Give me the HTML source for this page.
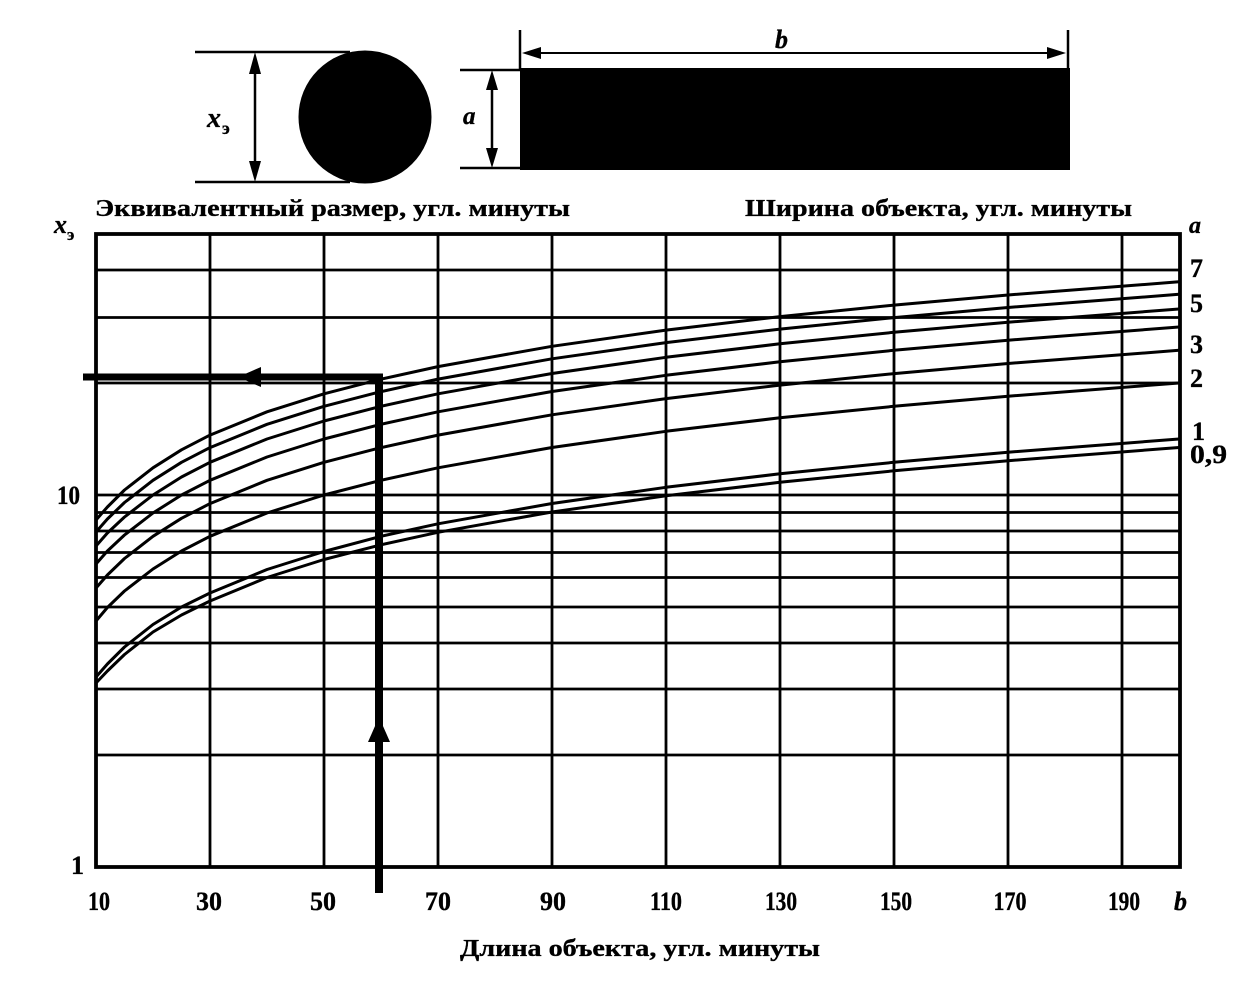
<!DOCTYPE html>
<html>
<head>
<meta charset="utf-8">
<style>
  html,body{margin:0;padding:0;background:#fff;}
  svg{display:block;}
  text{font-family:"Liberation Serif","DejaVu Serif",serif;font-weight:bold;fill:#000;stroke:#000;stroke-width:0.35;}
  .it{font-style:italic;}
</style>
</head>
<body>
<svg width="1248" height="998" viewBox="0 0 1248 998" xmlns="http://www.w3.org/2000/svg">
  <rect x="0" y="0" width="1248" height="998" fill="#fff"/>

  <!-- ===== Top diagrams ===== -->
  <g stroke="#000" stroke-width="2.5" fill="none">
    <line x1="195" y1="52" x2="350" y2="52"/>
    <line x1="195" y1="182" x2="350" y2="182"/>
    <line x1="255" y1="60" x2="255" y2="175"/>
    <line x1="460" y1="70" x2="522" y2="70"/>
    <line x1="460" y1="168" x2="522" y2="168"/>
    <line x1="492" y1="78" x2="492" y2="160"/>
    <line x1="520" y1="30" x2="520" y2="70"/>
    <line x1="1068" y1="30" x2="1068" y2="70"/>
    <line x1="530" y1="53" x2="1058" y2="53" stroke-width="2"/>
  </g>
  <g fill="#000">
    <polygon points="255,52 249,74 261,74"/>
    <polygon points="255,182 249,161 261,161"/>
    <polygon points="492,70 486,90 498,90"/>
    <polygon points="492,168 486,148 498,148"/>
    <polygon points="522,53 541,47 541,59"/>
    <polygon points="1066,53 1047,47 1047,59"/>
    <circle cx="365" cy="117" r="66.5"/>
    <rect x="520" y="68" width="550" height="102"/>
  </g>
  <text class="it" x="207" y="127" font-size="28">x</text>
  <text x="222" y="134" font-size="18">э</text>
  <text class="it" x="463" y="124" font-size="25">a</text>
  <text class="it" x="775" y="48" font-size="26">b</text>

  <!-- ===== Titles ===== -->
  <text x="95" y="216" font-size="24" textLength="475" lengthAdjust="spacingAndGlyphs">Эквивалентный размер, угл. минуты</text>
  <text x="745" y="216" font-size="24" textLength="387" lengthAdjust="spacingAndGlyphs">Ширина объекта, угл. минуты</text>
  <text class="it" x="54" y="233" font-size="26">x</text>
  <text x="67" y="240" font-size="17">э</text>
  <text class="it" x="1189" y="233" font-size="24">a</text>

  <!-- ===== Grid ===== -->
  <g stroke="#000" stroke-width="2.8" fill="none">
    <line x1="96" y1="755" x2="1180" y2="755"/>
    <line x1="96" y1="689" x2="1180" y2="689"/>
    <line x1="96" y1="643" x2="1180" y2="643"/>
    <line x1="96" y1="607" x2="1180" y2="607"/>
    <line x1="96" y1="577.5" x2="1180" y2="577.5"/>
    <line x1="96" y1="552.5" x2="1180" y2="552.5"/>
    <line x1="96" y1="531" x2="1180" y2="531"/>
    <line x1="96" y1="512.5" x2="1180" y2="512.5"/>
    <line x1="96" y1="495" x2="1180" y2="495"/>
    <line x1="96" y1="383" x2="1180" y2="383"/>
    <line x1="96" y1="317.5" x2="1180" y2="317.5"/>
    <line x1="96" y1="270" x2="1180" y2="270"/>
    <line x1="210" y1="234" x2="210" y2="867"/>
    <line x1="324" y1="234" x2="324" y2="867"/>
    <line x1="438" y1="234" x2="438" y2="867"/>
    <line x1="552" y1="234" x2="552" y2="867"/>
    <line x1="666" y1="234" x2="666" y2="867"/>
    <line x1="780" y1="234" x2="780" y2="867"/>
    <line x1="894" y1="234" x2="894" y2="867"/>
    <line x1="1008" y1="234" x2="1008" y2="867"/>
    <line x1="1122" y1="234" x2="1122" y2="867"/>
  </g>
  <rect x="96" y="234" width="1084" height="633" fill="none" stroke="#000" stroke-width="3.8"/>

  <!-- ===== Curves x_e = sqrt(a*b) ===== -->
  <g stroke="#000" stroke-width="3" fill="none" stroke-linejoin="round" stroke-linecap="round">
    <polyline points="96,520 107.4,507 124.5,490 153,467.8 181.5,449.8 210,435.1 267,411.8 324,393.8 381,379.1 438,366.6 552,346.3 666,330.1 780,316.6 894,305.1 1008,295 1179,281.8"/>
    <polyline points="96,532 107.4,519 124.5,502.5 153,480.3 181.5,462.3 210,447.6 267,424.3 324,406.3 381,391.6 438,379.1 552,358.8 666,342.6 780,329.1 894,317.6 1008,307.5 1179,294.3"/>
    <polyline points="96,546 107.4,533 124.5,517 153,495 181.5,477 210,462.3 267,439 324,421 381,406.3 438,393.8 552,373.5 666,357.3 780,343.8 894,332.3 1008,322.2 1179,309"/>
    <polyline points="96,564 107.4,551 124.5,535 153,513 181.5,495 210,480.3 267,457 324,439 381,424.3 438,411.8 552,391.5 666,375.3 780,361.8 894,350.3 1008,340.2 1179,327"/>
    <polyline points="96,588 107.4,575 124.5,558.5 153,536.3 181.5,518.3 210,503.6 267,480.3 324,462.3 381,447.6 438,435.1 552,414.8 666,398.6 780,385.1 894,373.6 1008,363.5 1179,350.3"/>
    <polyline points="96,621 107.4,607.5 124.5,591 153,569 181.5,551 210,536.3 267,513 324,495 381,480.3 438,467.8 552,447.5 666,431.3 780,417.8 894,406.3 1008,396.2 1179,383"/>
    <polyline points="96,677 107.4,664 124.5,647 153,624.5 181.5,607 210,593 267,569.5 324,551.5 381,536.3 438,523.8 552,503.5 666,487.3 780,473.8 894,462.3 1008,452.2 1179,439"/>
    <polyline points="96,683 107.4,671 124.5,654.5 153,632 181.5,615 210,601 267,577.5 324,559.5 381,544.8 438,532.3 552,512 666,495.8 780,482.3 894,470.8 1008,460.7 1179,447.5"/>
  </g>

  <!-- ===== Example arrows ===== -->
  <line x1="83" y1="377" x2="383" y2="377" stroke="#000" stroke-width="7"/>
  <polygon points="238,377 261,367 261,387" fill="#000"/>
  <line x1="379" y1="374" x2="379" y2="893" stroke="#000" stroke-width="8"/>
  <polygon points="379,717 368,742 390,742" fill="#000"/>

  <!-- ===== Right labels ===== -->
  <text x="1190" y="277" font-size="26">7</text>
  <text x="1190" y="312" font-size="26">5</text>
  <text x="1190" y="353" font-size="26">3</text>
  <text x="1190" y="387" font-size="26">2</text>
  <text x="1192" y="440" font-size="26">1</text>
  <text x="1190" y="463" font-size="26" textLength="37" lengthAdjust="spacingAndGlyphs">0,9</text>

  <!-- ===== Y tick labels ===== -->
  <text x="57" y="504" font-size="26" textLength="23" lengthAdjust="spacingAndGlyphs">10</text>
  <text x="71" y="874" font-size="26">1</text>

  <!-- ===== X tick labels ===== -->
  <g font-size="26" text-anchor="middle">
    <text x="99" y="910" textLength="22" lengthAdjust="spacingAndGlyphs">10</text>
    <text x="209" y="910" textLength="26" lengthAdjust="spacingAndGlyphs">30</text>
    <text x="323" y="910" textLength="26" lengthAdjust="spacingAndGlyphs">50</text>
    <text x="438" y="910" textLength="26" lengthAdjust="spacingAndGlyphs">70</text>
    <text x="553" y="910" textLength="26" lengthAdjust="spacingAndGlyphs">90</text>
    <text x="666" y="910" textLength="32" lengthAdjust="spacingAndGlyphs">110</text>
    <text x="781" y="910" textLength="32" lengthAdjust="spacingAndGlyphs">130</text>
    <text x="896" y="910" textLength="32" lengthAdjust="spacingAndGlyphs">150</text>
    <text x="1010" y="910" textLength="33" lengthAdjust="spacingAndGlyphs">170</text>
    <text x="1124" y="910" textLength="32" lengthAdjust="spacingAndGlyphs">190</text>
  </g>
  <text class="it" x="1174" y="910" font-size="26">b</text>

  <!-- ===== X axis title ===== -->
  <text x="460" y="956" font-size="24" textLength="360" lengthAdjust="spacingAndGlyphs">Длина объекта, угл. минуты</text>
</svg>
</body>
</html>
